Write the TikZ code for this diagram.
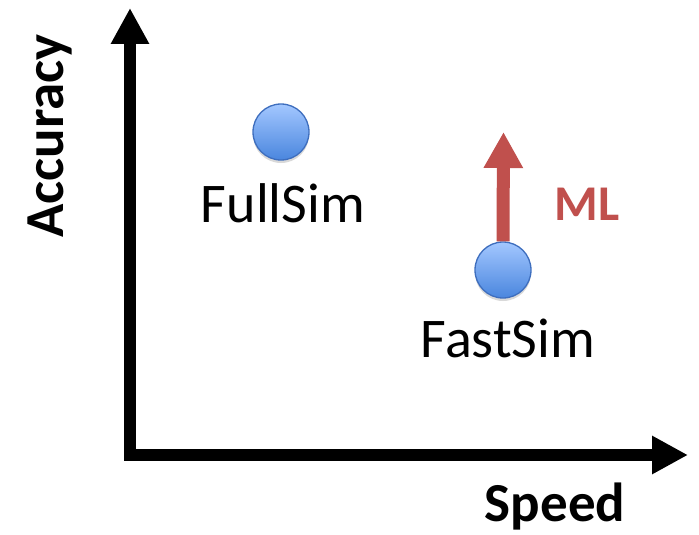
\documentclass[tikz,border=0pt]{standalone}
\usepackage{fontspec}
\setmainfont{Carlito}
\usetikzlibrary{arrows.meta,shadows,calc}
\definecolor{mlred}{RGB}{192,80,77}
\definecolor{balltop}{RGB}{163,199,255}
\definecolor{ballbot}{RGB}{74,134,222}
\definecolor{ballline}{RGB}{62,110,190}
\tikzset{
  axisline/.style={line width=12pt, -{Triangle[length=36pt 0 0, width=36pt 0 0]}},
  mlarrow/.style={line width=13pt, mlred, -{Triangle[length=36pt 0 0, width=37pt 0 0]}},
  ball/.style={circle, minimum size=56pt, inner sep=0pt, draw=ballline, line width=1.3pt,
    top color=balltop, bottom color=ballbot,
    drop shadow={shadow xshift=0pt, shadow yshift=-3pt, opacity=0.25, fill=black!60}},
  lbl/.style={font=\fontsize{56}{60}\selectfont, inner sep=0pt},
  blbl/.style={font=\fontsize{55}{60}\selectfont\bfseries, inner sep=0pt},
}
\begin{document}
\begin{tikzpicture}[x=1pt,y=-1pt]
\useasboundingbox (0,0) rectangle (699,535);
\coordinate (yb) at (130,453);
\coordinate (yt) at (130,8);
\coordinate (xl) at (124,455);
\coordinate (xr) at (688,455);
\draw[axisline] (yb) -- (yt);
\draw[axisline] (xl) -- (xr);
\node[ball] (full) at (281,132) {};
\node[ball] (fast) at (503,270) {};
\coordinate (mltip) at (503.5,132);
\draw[mlarrow] (fast.north) -- (mltip);
\node[lbl, anchor=base] (fulltxt) at (283,222) {FullSim};
\node[lbl, anchor=base] (fasttxt) at (508,357) {FastSim};
\node[blbl, text=mlred, font=\fontsize{50}{55}\selectfont\bfseries, anchor=base] (ml) at (587,220) {ML};
\node[blbl, anchor=base] (speed) at (555,521) {Speed};
\node[blbl, rotate=90, anchor=center] (acc) at (50,136) {Accuracy};
\end{tikzpicture}
\end{document}
